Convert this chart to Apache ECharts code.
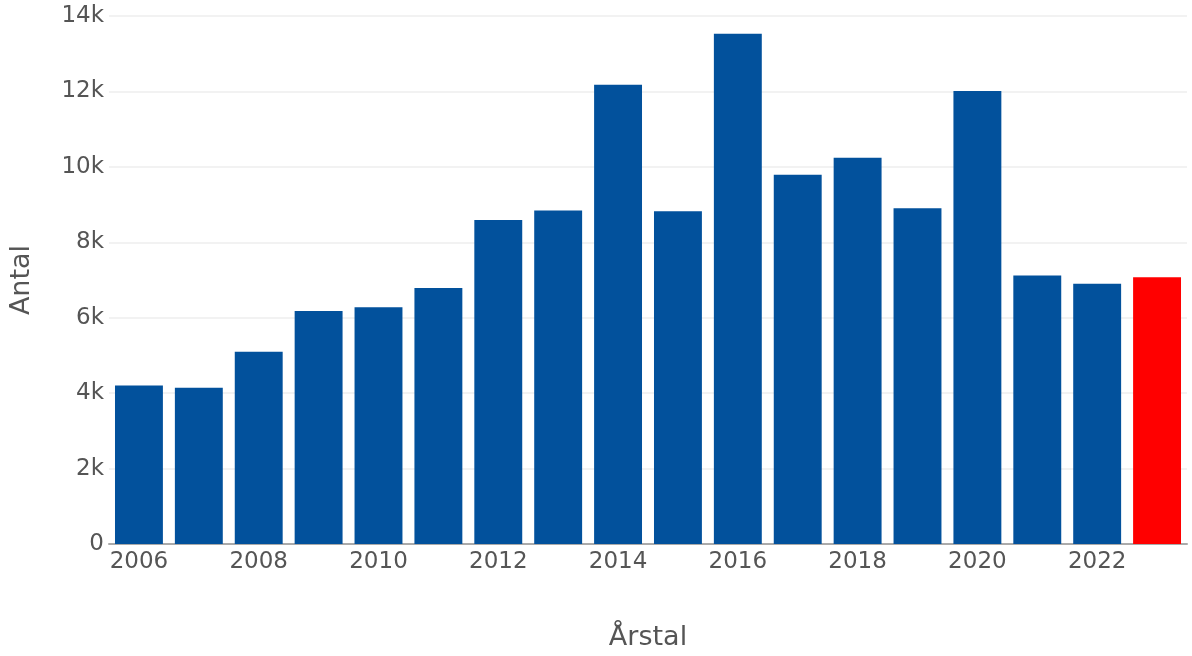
<!DOCTYPE html>
<html>
<head>
<meta charset="utf-8">
<script src="https://cdn.jsdelivr.net/npm/echarts@6/dist/echarts.min.js"></script>
<style>html,body{margin:0;padding:0;background:#fff}#c{width:1192px;height:656px}</style>
</head>
<body>
<div id="c"></div>
<script>
const years = ['2006','2007','2008','2009','2010','2011','2012','2013','2014','2015','2016','2017','2018','2019','2020','2021','2022','2023'];
const values = [4200,4140,5100,6180,6280,6790,8590,8840,12180,8820,13530,9790,10240,8900,12010,7120,6900,7070];
const highlightYear = '2023';
const blue = '#02519c';
const red = '#ff0000';

const chart = echarts.init(document.getElementById('c'));
const font = 'DejaVu Sans, Verdana, sans-serif';
chart.setOption({
  animation: false,
  grid: {left: 106, right: 5, top: 16, bottom: 107},
  xAxis: {
    type: 'category',
    data: years,
    name: 'Årstal',
    nameLocation: 'middle',
    nameGap: 80,
    nameTextStyle: {fontFamily: font, fontSize: 27, color: '#555'},
    axisLine: {lineStyle: {color: '#aaa', width: 2}},
    axisTick: {show: false},
    axisLabel: {interval: 1, fontFamily: font, fontSize: 23, color: '#555', margin: 7},
    splitLine: {show: false}
  },
  yAxis: {
    type: 'value',
    min: 0, max: 14000, interval: 2000,
    name: 'Antal',
    nameLocation: 'middle',
    nameGap: 74,
    nameTextStyle: {fontFamily: font, fontSize: 27, color: '#555'},
    axisLine: {show: false},
    axisTick: {show: false},
    axisLabel: {fontFamily: font, fontSize: 23, color: '#555', margin: 5,
      padding: [8, 0, 0, 0],
      formatter: v => v === 0 ? '0' : (v/1000) + 'k'},
    splitLine: {lineStyle: {color: '#eee', width: 1.5}}
  },
  series: [{
    type: 'bar',
    barCategoryGap: '20%',
    data: values.map((v, i) => ({value: v, itemStyle: {color: years[i] === highlightYear ? red : blue}}))
  }]
});
</script>
</body>
</html>
